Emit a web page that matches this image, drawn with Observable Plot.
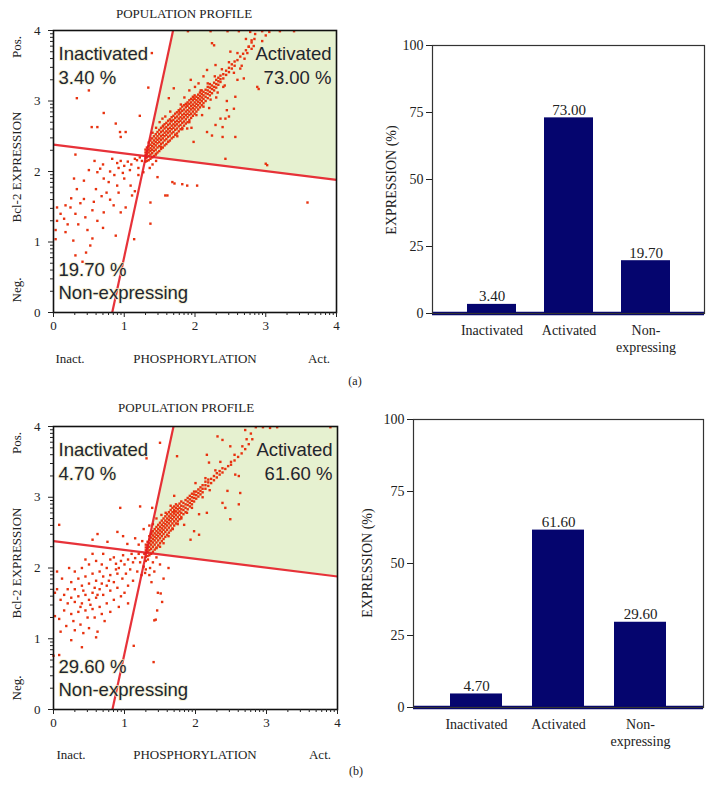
<!DOCTYPE html>
<html><head><meta charset="utf-8">
<script src="https://cdn.jsdelivr.net/npm/d3@7"></script>
<script src="https://cdn.jsdelivr.net/npm/@observablehq/plot@0.6"></script>
<style>
body{margin:0;background:#fff;}
#root{position:relative;width:713px;height:806px;overflow:hidden;font-family:'Liberation Serif','DejaVu Serif',serif;color:#222;}
.chart{position:absolute;}
.lbl{position:absolute;white-space:nowrap;transform:translate(-50%,-50%);line-height:1;}
</style></head><body><div id="root"></div>
<script>
// ---------- DATA ----------
const categories = ["Inactivated", "Activated", "Non-expressing"];
const categoryLabels = ["Inactivated", "Activated", "Non-\nexpressing"];
const expressionA = [3.40, 73.00, 19.70];
const expressionB = [4.70, 61.60, 29.60];
const expressionTicks = [0, 25, 50, 75, 100];
const logTicks = [0, 1, 2, 3, 4];
const minorOffsets = [0.301, 0.477, 0.602, 0.699, 0.778, 0.845, 0.903, 0.954];
const gateV = [[0.83, 0], [1.69, 4]];
const gateH = [[0, 2.38], [4, 1.88]];
const quadNames = ["Inactivated", "Activated", "Non-expressing"];
const scatterTitle = "POPULATION PROFILE";
const yAxisTexts = ["Pos.", "Bcl-2 EXPRESSION", "Neg."];
const xAxisTexts = ["Inact.", "PHOSPHORYLATION", "Act."];
const barYTitle = "EXPRESSION (%)";
const panelTags = ["(a)", "(b)"];

// panel (a) cells: dense activated band (x, [y...])
const coreRowsA = [
[1.30,[2.14,2.19,2.23,2.27,2.31]],[1.32,[2.15,2.20,2.25,2.29,2.34]],[1.345,[2.16,2.22,2.27,2.31,2.36,2.41]],
[1.37,[2.18,2.24,2.29,2.33,2.38,2.44]],[1.395,[2.20,2.26,2.31,2.36,2.41,2.47]],[1.42,[2.22,2.29,2.34,2.39,2.44,2.50]],
[1.445,[2.24,2.31,2.37,2.42,2.47,2.53]],[1.47,[2.27,2.34,2.40,2.45,2.50,2.56]],[1.495,[2.29,2.36,2.42,2.47,2.53,2.59]],
[1.52,[2.32,2.39,2.45,2.50,2.56,2.62]],[1.545,[2.34,2.41,2.47,2.52,2.58,2.64]],[1.57,[2.37,2.44,2.50,2.55,2.61,2.67]],
[1.595,[2.39,2.46,2.52,2.57,2.63,2.69]],[1.62,[2.42,2.49,2.55,2.60,2.66,2.72]],[1.645,[2.44,2.51,2.57,2.62,2.68,2.74]],
[1.67,[2.47,2.54,2.60,2.65,2.71,2.77]],[1.695,[2.49,2.56,2.62,2.67,2.73,2.79]],[1.72,[2.52,2.59,2.65,2.70,2.76,2.82]],
[1.745,[2.54,2.61,2.67,2.72,2.78,2.84]],[1.77,[2.57,2.64,2.70,2.75,2.81,2.87]],[1.795,[2.60,2.66,2.72,2.77,2.83,2.89]],
[1.82,[2.62,2.69,2.75,2.80,2.86,2.92]],[1.845,[2.65,2.71,2.77,2.82,2.88,2.94]],[1.87,[2.68,2.74,2.80,2.85,2.91,2.96]],
[1.895,[2.70,2.77,2.82,2.87,2.93,2.98]],[1.92,[2.73,2.80,2.85,2.90,2.96,3.01]],[1.945,[2.76,2.82,2.88,2.93,2.98,3.03]],
[1.97,[2.79,2.85,2.90,2.95,3.01,3.06]],[1.995,[2.82,2.88,2.93,2.98,3.03,3.08]],[2.02,[2.85,2.91,2.96,3.01,3.06]],
[2.045,[2.88,2.94,2.99,3.04,3.09]],[2.07,[2.91,2.97,3.02,3.07,3.12]],[2.095,[2.94,3.00,3.05,3.10,3.15]],
[2.12,[2.97,3.03,3.08,3.13]],[2.15,[3.00,3.06,3.11,3.16]],[2.18,[3.04,3.10,3.15,3.20]],[2.21,[3.08,3.13,3.19,3.24]],
[2.24,[3.11,3.17,3.22]],[2.27,[3.15,3.20,3.26]],[2.30,[3.19,3.24,3.30]],[2.33,[3.23,3.28,3.33]],[2.36,[3.27,3.31,3.36]],
[2.40,[3.32,3.38]],[2.44,[3.37,3.43]],[2.48,[3.41,3.47]],[2.52,[3.46,3.52]],[2.56,[3.50,3.56]],[2.60,[3.58]],
[2.64,[3.63]],[2.68,[3.67]],[2.72,[3.72]],[2.76,[3.77]],[2.80,[3.83]],[2.84,[3.88]]
];
const activeOutA = [
[2.24,3.82],[2.50,3.70],[2.29,3.51],[2.17,3.44],[1.94,3.30],[1.70,3.18],[1.63,3.04],[1.54,2.75],
[1.58,2.78],[2.36,2.75],[2.43,2.75],[2.48,2.78],[2.29,2.66],[2.39,2.63],[2.24,2.51],[2.39,2.49],
[2.57,2.49],[2.17,2.56],[1.89,2.61],[1.98,2.42],[2.43,2.18],[3.02,2.09],[2.69,3.32],[2.88,3.20],
[2.57,3.06],[2.55,2.89],[2.64,3.46],[2.76,3.77],[2.70,3.60],[2.74,3.68],[2.80,3.86],[2.72,3.88],
[2.83,3.78],[1.92,3.15],[2.05,3.25],[2.12,3.35],[2.00,3.20],[1.80,2.95],[1.75,2.50],[1.95,2.62],
[2.10,2.80],[2.20,2.90],[2.30,3.05],[2.40,3.20],[2.45,3.00],[2.60,3.30],[1.85,3.05],[1.65,2.85],
[1.45,2.62],[1.50,2.70],[1.40,2.55],[1.45,2.25],[1.52,2.35],[1.55,2.65],[1.62,2.42],[1.66,2.72],
[1.72,2.52],[1.78,2.85],[1.82,2.60],[1.88,2.95],[1.92,2.70],[1.98,3.05],[2.02,2.80],[2.08,3.15],
[2.12,2.92],[2.18,3.25],[2.22,3.02],[2.28,3.35],[2.32,3.12],[2.38,3.45],[2.42,3.22],[2.48,3.55],
[2.55,3.40],[2.60,3.68],[2.66,3.50],[2.27,3.79],[2.90,3.17],[3.00,2.11],[2.45,2.87],
[1.90,3.99],[2.22,3.99],[2.46,3.99],[2.62,3.99],[2.78,3.98],[2.95,3.99],[3.05,3.98],[3.20,3.99],
[3.40,3.99],[2.85,3.95],[3.00,3.93],[2.80,3.74],[2.95,3.85]
];
const inactiveA = [
[0.50,3.15],[0.33,3.04],[0.71,2.83],[0.54,2.63],[0.62,2.63],[0.88,2.68],[0.94,2.56],[1.02,2.56],
[0.95,2.49],[1.22,2.79],[1.34,3.19],[1.39,3.68]
];
const nonExpA = [
[0.31,2.24],[0.83,2.18],[0.90,2.12],[0.95,2.15],[1.00,2.08],[1.05,2.14],[1.10,2.10],[1.15,2.18],
[1.20,2.05],[1.25,2.15],[1.27,1.99],[1.18,2.16],[1.08,2.02],[0.98,1.98],[0.92,2.05],[0.86,1.95],
[0.50,2.02],[0.62,1.99],[0.66,2.04],[0.71,1.90],[0.78,1.85],[0.90,1.80],[0.29,1.90],[0.43,1.87],
[0.33,1.75],[0.17,1.52],[0.05,1.49],[0.24,1.49],[0.43,1.61],[0.57,1.57],[0.71,1.42],[0.31,1.40],
[0.15,1.33],[0.03,1.17],[0.17,1.14],[0.48,1.17],[0.52,0.95],[0.31,0.81],[0.46,0.85],[0.41,0.72],
[0.88,1.09],[1.02,1.49],[0.95,1.42],[1.11,1.66],[1.09,1.80],[0.60,1.75],[0.68,1.65],[0.75,1.70],
[0.80,1.60],[0.55,1.45],[0.38,1.55],[0.25,1.62],[0.45,1.35],[0.62,1.30],[0.35,1.25],[0.20,1.25],
[0.70,1.20],[0.55,1.05],[0.28,1.02],[0.10,1.40],[0.85,1.52],[1.00,1.90],[1.20,1.95],[1.15,1.72],
[0.92,1.70],[0.80,2.00],[0.70,2.10],[0.58,2.15],[1.22,2.20],[0.05,1.30],[0.03,1.04],[1.14,1.04]
];
const lowRightA = [
[1.37,1.26],[1.47,1.92],[1.68,1.85],[1.82,1.82],[2.03,1.80],[1.37,1.56],[1.61,1.66],[3.59,1.56],
[1.89,1.80],[1.58,1.66],[1.71,1.83],[1.40,2.10],[1.45,2.15],[1.36,2.05]
];

// panel (b) cells
const coreRowsB = [
[1.30,[2.16,2.21,2.25,2.29,2.33]],[1.325,[2.17,2.23,2.28,2.32,2.37]],[1.35,[2.18,2.25,2.30,2.35,2.40,2.45]],
[1.375,[2.20,2.27,2.33,2.38,2.43,2.48]],[1.40,[2.23,2.30,2.36,2.41,2.46,2.52]],[1.425,[2.26,2.33,2.39,2.44,2.49,2.55]],
[1.45,[2.29,2.36,2.42,2.47,2.52,2.58]],[1.475,[2.32,2.39,2.45,2.50,2.55,2.61]],[1.50,[2.35,2.42,2.48,2.53,2.58,2.64]],
[1.525,[2.38,2.45,2.51,2.56,2.61,2.67]],[1.55,[2.41,2.48,2.54,2.59,2.64,2.70]],[1.575,[2.44,2.51,2.57,2.62,2.67,2.73]],
[1.60,[2.47,2.54,2.60,2.65,2.70,2.76]],[1.625,[2.50,2.57,2.63,2.68,2.73,2.79]],[1.65,[2.53,2.60,2.66,2.71,2.76,2.82]],
[1.675,[2.56,2.63,2.69,2.74,2.79,2.85]],[1.70,[2.60,2.66,2.72,2.77,2.82,2.87]],[1.725,[2.63,2.69,2.75,2.80,2.85,2.90]],
[1.75,[2.66,2.72,2.78,2.83,2.88]],[1.775,[2.69,2.75,2.80,2.85,2.91]],[1.80,[2.72,2.78,2.83,2.88,2.94]],
[1.83,[2.76,2.82,2.87,2.92]],[1.86,[2.79,2.85,2.90,2.96]],[1.89,[2.83,2.89,2.94,2.99]],[1.92,[2.87,2.92,2.97,3.02]],
[1.95,[2.90,2.95,3.00,3.05]],[1.98,[2.94,2.99,3.04,3.08]],[2.01,[2.98,3.03,3.08]],[2.04,[3.01,3.06,3.11]],
[2.07,[3.04,3.09,3.14]],[2.10,[3.07,3.12,3.17]],[2.14,[3.12,3.17,3.22]],[2.18,[3.16,3.21,3.25]],
[2.22,[3.20,3.26]],[2.26,[3.24,3.30]],[2.30,[3.28,3.34]],[2.34,[3.32,3.37]],[2.38,[3.35,3.41]],[2.42,[3.40]],
[2.46,[3.44]],[2.50,[3.46,3.50]],[2.55,[3.52]],[2.60,[3.57]],[2.65,[3.62]],[2.70,[3.68]],[2.75,[3.75]],[2.80,[3.82]]
];
const activeOutB = [
[2.31,3.86],[2.38,3.81],[1.74,3.58],[2.16,3.60],[2.49,3.72],[2.56,3.32],[2.61,3.30],[2.19,3.49],
[2.14,3.27],[2.00,3.20],[2.45,3.09],[2.63,3.06],[2.38,2.92],[2.42,2.85],[2.61,2.90],[2.49,2.69],
[2.16,2.78],[2.05,2.76],[1.98,2.52],[2.05,2.47],[1.93,2.40],[1.84,2.61],[1.70,3.02],[1.70,2.80],
[1.55,2.35],[1.62,2.45],[1.45,2.28],[1.50,2.30],[1.68,2.55],[1.75,2.62],[1.58,2.78],[1.65,2.88],
[1.80,2.70],[1.88,2.78],[1.95,2.85],[2.10,3.00],[2.20,3.10],[2.28,3.38],[2.35,3.50],[2.55,3.60],
[2.66,3.72],[2.72,3.82],[2.78,3.90],[2.70,3.95],[2.85,3.99],[2.95,3.99],[3.05,3.98],[3.15,3.99],
[3.90,3.99],[1.40,2.62],[1.45,2.70],[1.52,2.75],[1.38,2.50]
];
const inactiveB = [
[1.50,3.77],[1.31,3.55],[0.94,2.85],[1.22,2.87],[1.39,2.85],[0.08,2.61],[0.62,2.48],[0.90,2.51],
[0.76,2.37],[1.04,2.34],[1.27,2.55],[1.15,2.42],[1.20,2.33],[0.55,2.40],[0.98,2.45],[1.25,2.38],[1.35,2.60]
];
const nonExpB = [
[1.28,2.20],[1.25,2.15],[1.22,2.08],[1.30,2.10],[1.27,2.02],[1.20,2.20],[1.15,2.14],[1.10,2.20],
[1.12,2.08],[1.05,2.12],[1.00,2.05],[0.98,2.18],[0.95,2.10],[0.92,2.00],[1.08,1.98],[1.18,1.95],
[1.24,1.90],[1.02,1.92],[0.88,2.06],[0.85,2.15],[0.90,1.92],[1.30,1.98],[1.29,1.93],
[0.30,1.95],[0.40,2.00],[0.50,2.05],[0.60,2.10],[0.70,2.20],[0.80,2.12],[0.75,2.00],[0.65,1.95],
[0.55,1.92],[0.45,1.88],[0.35,1.85],[0.25,1.80],[0.30,1.70],[0.40,1.75],[0.50,1.78],[0.60,1.82],
[0.70,1.88],[0.80,1.90],[0.85,1.80],[0.75,1.75],[0.65,1.70],[0.55,1.65],[0.45,1.62],[0.35,1.60],
[0.25,1.58],[0.15,1.62],[0.20,1.50],[0.30,1.52],[0.40,1.50],[0.50,1.55],[0.60,1.58],[0.70,1.62],
[0.80,1.68],[0.90,1.72],[0.95,1.60],[0.85,1.55],[0.75,1.50],[0.65,1.45],[0.55,1.42],[0.45,1.40],
[0.35,1.38],[0.25,1.35],[0.15,1.40],[0.10,1.55],[0.05,1.70],[0.20,1.70],[0.42,1.68],[0.58,1.72],
[0.68,1.78],[0.78,1.82],[0.62,1.62],[0.52,1.48],[0.38,1.45],[0.48,1.30],[0.58,1.30],[0.68,1.35],
[0.28,1.25],[0.18,1.18],[0.38,1.20],[0.50,1.15],[0.62,1.10],[0.42,1.08],[0.30,1.12],[0.08,1.28],
[0.02,1.32],[0.10,1.10],[0.02,1.65],[0.05,1.95],[0.12,1.85],[0.22,2.00],[0.45,2.12],[0.55,2.20],
[0.68,2.05],[0.88,1.98],[0.97,1.85],[1.05,1.75],[1.12,1.82],[1.00,1.65],[0.92,1.45],[0.80,1.38],
[1.05,1.50],[0.72,1.25],[0.40,0.88],[0.08,0.77],[0.00,0.76],[1.13,0.90],[0.60,1.02],[0.25,0.98]
];
const lowRightB = [
[1.33,2.12],[1.36,2.00],[1.40,2.08],[1.35,1.90],[1.42,1.95],[1.45,2.15],[1.50,2.05],[1.38,1.80],
[1.47,1.65],[1.53,1.52],[1.46,1.40],[1.42,1.26],[1.44,1.27],[1.41,0.67],[1.62,2.00],[1.55,1.85],[1.51,1.64]
];

// ---------- DRAWING ----------
const root = document.getElementById("root");
const navy = "#05056e";
const serif = "'Liberation Serif','DejaVu Serif',serif";
const minorTicks = logTicks.slice(0, -1).flatMap(n => minorOffsets.map(o => n + o));
const fmt = d3.format(".2f");
const intFmt = d3.format("d");

function expandRows(rows) { return rows.flatMap(([x, ys]) => ys.map(y => [x, y])); }

function place(node, left, top) {
  node.classList.add("chart");
  node.style.left = left + "px";
  node.style.top = top + "px";
  root.appendChild(node);
}
function label(text, cx, cy, size, rotate) {
  const d = document.createElement("div");
  d.className = "lbl";
  d.textContent = text;
  d.style.left = cx + "px";
  d.style.top = cy + "px";
  d.style.fontSize = size + "px";
  if (rotate) d.style.transform = "translate(-50%,-50%) rotate(-90deg)";
  root.appendChild(d);
}

function scatterPlot(cells, values, m) {
  const [[vx0, vy0], [vx1, vy1]] = gateV;
  const [[hx0, hy0], [hx1, hy1]] = gateH;
  const sv = (vx1 - vx0) / (vy1 - vy0);
  const sh = (hy1 - hy0) / (hx1 - hx0);
  const yi = (hy0 + sh * (vx0 - sv * vy0 - hx0)) / (1 - sh * sv);
  const xi = vx0 + sv * (yi - vy0);
  const hAt = x => hy0 + sh * (x - hx0);
  const region = [
    {x: xi, y1: yi, y2: yi},
    {x: vx1, y1: hAt(vx1), y2: vy1},
    {x: hx1, y1: hy1, y2: vy1}
  ];
  const pct = values.map(v => fmt(v) + " %");
  const qs = {fontFamily: "'Liberation Sans',Arial,sans-serif", fontSize: 18.5, fill: "#20262f",
              stroke: "#f2ecc8", strokeWidth: 2, strokeOpacity: 0.7};
  return Plot.plot({
    width: 360, height: m.height,
    marginLeft: 53, marginRight: m.right, marginTop: m.top, marginBottom: m.bottom,
    x: {domain: [0, 4]}, y: {domain: [0, 4]},
    style: {fontFamily: serif, fontSize: "13px", color: "#222", background: "transparent", overflow: "visible"},
    marks: [
      Plot.areaY(region, {x: "x", y1: "y1", y2: "y2", fill: "#e6f1d0", curve: "linear"}),
      Plot.dot(cells, {x: d => d[0], y: d => d[1], symbol: "square", r: 1.35, fill: "#e8320f"}),
      Plot.link([gateV, gateH], {x1: d => d[0][0], y1: d => d[0][1], x2: d => d[1][0], y2: d => d[1][1],
        stroke: "#e41c24", strokeWidth: 2.2, strokeOpacity: 0.9}),
      Plot.frame({stroke: "#111", strokeWidth: 1.6}),
      Plot.axisX(logTicks, {tickSize: 5, tickPadding: 3, tickFormat: intFmt, label: null, fontSize: 13}),
      Plot.axisX(minorTicks, {tickSize: 3, tickFormat: () => "", label: null}),
      Plot.axisY(logTicks, {tickSize: 5, tickPadding: 8, tickFormat: intFmt, label: null, fontSize: 13}),
      Plot.axisY(minorTicks, {tickSize: 3, tickFormat: () => "", label: null}),
      Plot.text([quadNames[0]], {frameAnchor: "top-left", textAnchor: "start", dx: 5, dy: 16, ...qs}),
      Plot.text([pct[0]], {frameAnchor: "top-left", textAnchor: "start", dx: 5, dy: 40, ...qs}),
      Plot.text([quadNames[1]], {frameAnchor: "top-right", textAnchor: "end", dx: -5, dy: 16, ...qs}),
      Plot.text([pct[1]], {frameAnchor: "top-right", textAnchor: "end", dx: -5, dy: 40, ...qs}),
      Plot.text([pct[2]], {frameAnchor: "bottom-left", textAnchor: "start", dx: 5, dy: -37, ...qs}),
      Plot.text([quadNames[2]], {frameAnchor: "bottom-left", textAnchor: "start", dx: 5, dy: -14, ...qs})
    ]
  });
}

function barPlot(values, m) {
  const rows = categories.map((c, i) => ({cat: c, value: values[i], label: categoryLabels[i]}));
  return Plot.plot({
    width: 353, height: m.height,
    marginLeft: m.left, marginRight: m.right, marginTop: m.top, marginBottom: m.bottom,
    x: {type: "band", domain: categories, paddingInner: 0.367, paddingOuter: 0.445, axis: null},
    y: {domain: [0, 100]},
    style: {fontFamily: serif, fontSize: "14px", color: "#222", background: "transparent", overflow: "visible"},
    marks: [
      Plot.barY(rows, {x: "cat", y: "value", fill: navy}),
      Plot.ruleY([0], {stroke: navy, strokeWidth: 3.5}),
      Plot.frame({stroke: "#333", strokeWidth: 1.2}),
      Plot.axisY(expressionTicks, {tickSize: 6, tickPadding: 3, label: null, fontSize: 14}),
      Plot.text(rows, {x: "cat", y: "value", text: d => fmt(d.value), lineAnchor: "bottom", dy: -3, fontSize: 15, fill: "#222"}),
      Plot.text(rows, {x: "cat", y: 0, text: "label", lineAnchor: "top", dy: 9, lineHeight: 1.22, fontSize: 14, fill: "#222"})
    ]
  });
}

const cellsA = [...expandRows(coreRowsA), ...activeOutA, ...inactiveA, ...nonExpA, ...lowRightA];
const cellsB = [...expandRows(coreRowsB), ...activeOutB, ...inactiveB, ...nonExpB, ...lowRightB];

place(scatterPlot(cellsA, expressionA, {height: 370, right: 24, top: 30, bottom: 58}), 0, 0);
place(barPlot(expressionA, {height: 370, left: 72, right: 9, top: 45, bottom: 57}), 360, 0);
place(scatterPlot(cellsB, expressionB, {height: 390, right: 23, top: 46, bottom: 61}), 0, 380);
place(barPlot(expressionB, {height: 390, left: 53, right: 10, top: 39, bottom: 63}), 360, 380);

// panel (a) texts
label(scatterTitle, 184, 13, 13);
label(yAxisTexts[0], 16, 47, 13, true);
label(yAxisTexts[1], 16, 167, 13, true);
label(yAxisTexts[2], 16, 290, 13, true);
label(xAxisTexts[0], 70, 358, 13);
label(xAxisTexts[1], 195, 358, 13);
label(xAxisTexts[2], 319, 358, 13);
label(barYTitle, 392, 180, 14, true);
label(panelTags[0], 355, 381, 12);
// panel (b) texts
label(scatterTitle, 186, 407, 13);
label(yAxisTexts[0], 16, 443, 13, true);
label(yAxisTexts[1], 16, 563, 13, true);
label(yAxisTexts[2], 16, 688, 13, true);
label(xAxisTexts[0], 71, 754, 13);
label(xAxisTexts[1], 195, 754, 13);
label(xAxisTexts[2], 320, 754, 13);
label(barYTitle, 368, 563, 14, true);
label(panelTags[1], 356, 771, 12);
</script></body></html>
